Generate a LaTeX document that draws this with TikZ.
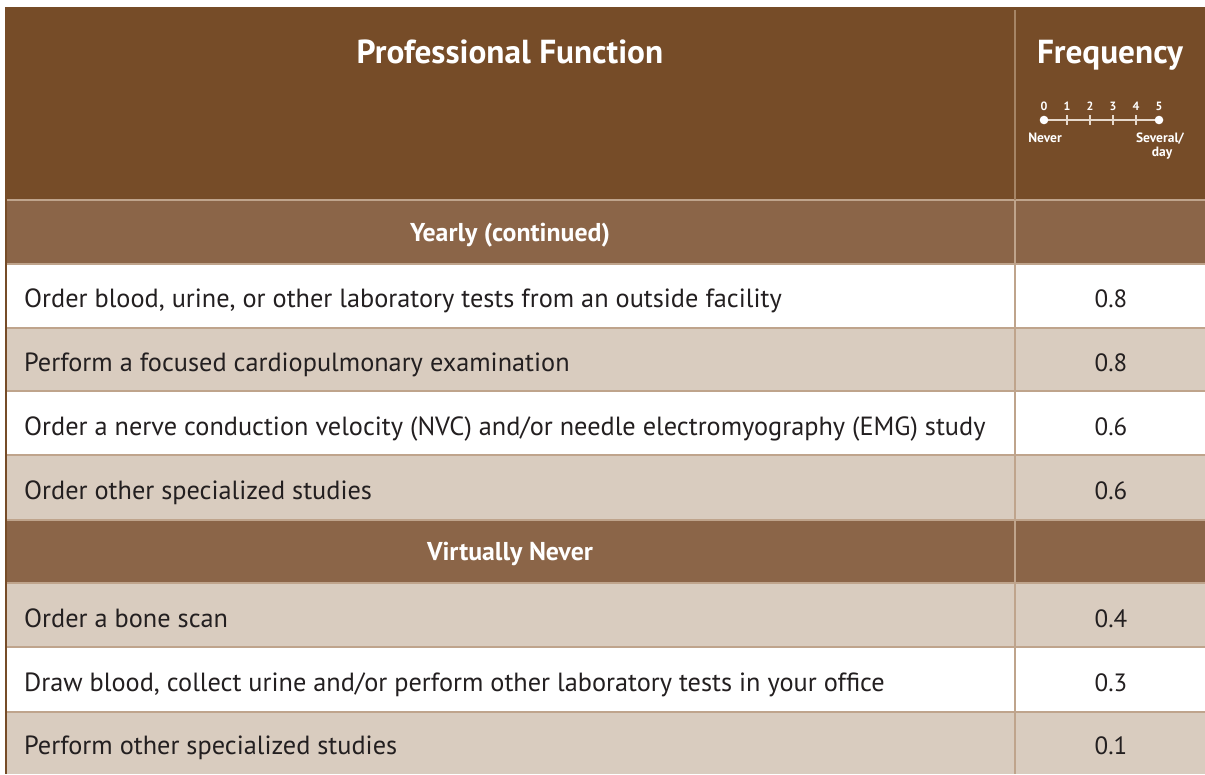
\documentclass[tikz,border=0pt]{standalone}
\usepackage{fontspec}
\setmainfont{PT Sans}
\definecolor{hdr}{HTML}{764C28}
\definecolor{subhdr}{HTML}{8B6548}
\definecolor{lite}{HTML}{D9CCBF}
\definecolor{sepc}{HTML}{BFA48C}
\definecolor{hsep}{HTML}{A68566}
\definecolor{txt}{HTML}{231F20}
\definecolor{scalec}{HTML}{E6D9CC}
\tikzset{
  bodytext/.style={anchor=base west, text=txt, font=\fontsize{26.3}{30}\selectfont, inner sep=0pt},
  valtext/.style={anchor=base, text=txt, font=\fontsize{25}{30}\selectfont, inner sep=0pt},
  headtext/.style={anchor=base, text=white, font=\bfseries\fontsize{33.3}{38}\selectfont, inner sep=0pt},
  subtext/.style={anchor=base, text=white, font=\bfseries\fontsize{25.8}{30}\selectfont, inner sep=0pt},
  numtext/.style={anchor=base, text=white, font=\bfseries\fontsize{12}{13}\selectfont, inner sep=0pt},
  scaletext/.style={anchor=base, text=white, font=\bfseries\fontsize{13.5}{14}\selectfont, inner sep=0pt},
  sepline/.style={draw=sepc, line width=2pt},
}
\begin{document}
\begin{tikzpicture}[x=1pt,y=-1pt]
\useasboundingbox (0,0) rectangle (1205,774);
% fills
\fill[hdr] (5,7) rectangle (1205,200);
\fill[subhdr] (5,200) rectangle (1205,264);
\fill[white] (5,264) rectangle (1205,328);
\fill[lite] (5,328) rectangle (1205,391);
\fill[white] (5,391) rectangle (1205,455);
\fill[lite] (5,455) rectangle (1205,520);
\fill[subhdr] (5,520) rectangle (1205,583);
\fill[lite] (5,583) rectangle (1205,647);
\fill[white] (5,647) rectangle (1205,712);
\fill[lite] (5,712) rectangle (1205,774);
% separators
\foreach \yy in {200,264,328,391,455,520,583,647,712}
  \draw[sepline] (5,\yy) -- (1205,\yy);
\draw[draw=hsep, line width=2pt] (1015,10) -- (1015,200);
\draw[sepline] (1015,200) -- (1015,774);
\draw[draw=hdr, line width=2pt] (6,7) -- (6,774);
% header
\node[headtext] (pf) at (510,63) {Professional Function};
\node[headtext] (fq) at (1110,63) {Frequency};
% scale
\coordinate (s0) at (1044,120);
\coordinate (s5) at (1159,120);
\draw[draw=scalec, line width=1.3pt] (s0) -- (s5);
\foreach \i in {1,2,3,4}
  \draw[draw=scalec, line width=1.3pt] ({1044+23*\i},115) -- ({1044+23*\i},125);
\fill[white] (s0) circle (4.3);
\fill[white] (s5) circle (4.3);
\foreach \i in {0,...,5}
  \node[numtext] (n\i) at ({1044+23*\i},110) {\i};
\node[scaletext] (nev) at (1045,142) {Never};
\node[scaletext] (sev) at (1160,142) {Several/};
\node[scaletext] (day) at (1162,156) {day};
% subheaders
\node[subtext] (y) at (510,241) {Yearly (continued)};
\node[subtext] (vn) at (510,560) {Virtually Never};
% rows
\node[bodytext] (r1) at (24,307) {Order blood, urine, or other laboratory tests from an outside facility};
\node[valtext] (v1) at (1111,307) {0.8};
\node[bodytext] (r2) at (24,371) {Perform a focused cardiopulmonary examination};
\node[valtext] (v2) at (1111,371) {0.8};
\node[bodytext] (r3) at (24,435) {Order a nerve conduction velocity (NVC) and/or needle electromyography (EMG) study};
\node[valtext] (v3) at (1111,435) {0.6};
\node[bodytext] (r4) at (24,499) {Order other specialized studies};
\node[valtext] (v4) at (1111,499) {0.6};
\node[bodytext] (r5) at (24,627) {Order a bone scan};
\node[valtext] (v5) at (1111,627) {0.4};
\node[bodytext] (r6) at (24,691) {Draw blood, collect urine and/or perform other laboratory tests in your office};
\node[valtext] (v6) at (1111,691) {0.3};
\node[bodytext] (r7) at (24,754) {Perform other specialized studies};
\node[valtext] (v7) at (1111,754) {0.1};
\end{tikzpicture}
\end{document}
